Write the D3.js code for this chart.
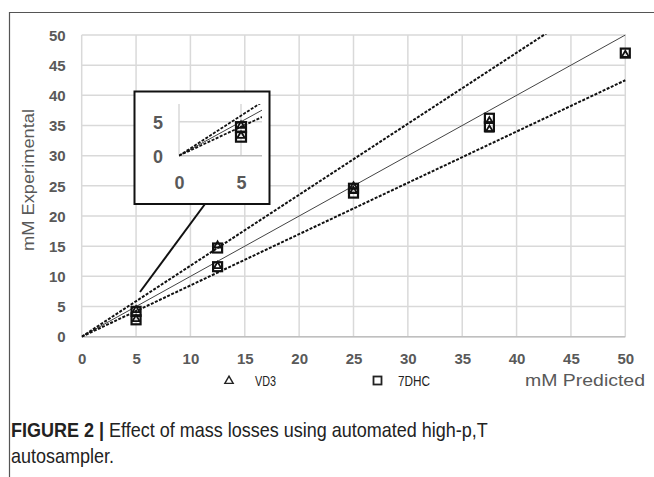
<!DOCTYPE html>
<html><head><meta charset="utf-8">
<script src="https://cdn.jsdelivr.net/npm/d3@7"></script>
<style>body{margin:0;background:#fff}svg{display:block}</style>
</head><body>
<svg id="c" width="654" height="477"></svg>
<script>
const xTicks = [0,5,10,15,20,25,30,35,40,45,50];
const yTicks = [0,5,10,15,20,25,30,35,40,45,50];
const vd3X = [5,5,12.5,12.5,25,25,37.5,37.5,50];
const vd3Y = [4.5,3.0,15.2,11.8,25.0,24.2,35.8,34.4,46.8];
const dhcX = [5,5,12.5,12.5,25,25,37.5,37.5,50];
const dhcY = [4.2,2.8,14.7,11.6,24.6,23.8,36.2,34.8,47.0];
const lineSlopes = [1, 1/0.85, 0.85];
const insetTicks = [0,5];

const svg = d3.select('#c');
svg.append('line').attr('x1',9).attr('x2',654).attr('y1',12.5).attr('y2',12.5).attr('stroke','#555').attr('stroke-width',1.2);
svg.append('line').attr('x1',9.5).attr('x2',9.5).attr('y1',12).attr('y2',477).attr('stroke','#555').attr('stroke-width',1.2);

const x = d3.scaleLinear().domain([0,50]).range([81.7,625.3]);
const y = d3.scaleLinear().domain([0,50]).range([336.7,35]);
const fmt = d3.format('d');

const g = svg.append('g');
g.selectAll('.vg').data(xTicks).join('line').attr('x1',d=>x(d)).attr('x2',d=>x(d)).attr('y1',y(50)).attr('y2',y(0)).attr('stroke','#d9d9d9').attr('stroke-width',1.5);
g.selectAll('.hg').data(yTicks).join('line').attr('x1',x(0)).attr('x2',x(50)).attr('y1',d=>y(d)).attr('y2',d=>y(d)).attr('stroke','#d9d9d9').attr('stroke-width',1.5);
g.append('line').attr('x1',x(0)).attr('x2',x(50)).attr('y1',y(0)).attr('y2',y(0)).attr('stroke','#bfbfbf').attr('stroke-width',1.5);

const tickFont = 'Liberation Sans, Arial, sans-serif';
const xAxis = d3.axisBottom(x).tickValues(xTicks).tickFormat(fmt).tickSize(0).tickPadding(0);
const ax = svg.append('g').attr('transform',`translate(0,${y(0)+22})`).call(xAxis);
ax.select('.domain').remove();
ax.selectAll('text').attr('font-family',tickFont).attr('font-weight','bold').attr('font-size',15).attr('fill','#595959').attr('dy','0.35em');
const yAxis = d3.axisLeft(y).tickValues(yTicks).tickFormat(fmt).tickSize(0).tickPadding(0);
const ay = svg.append('g').attr('transform',`translate(${x(0)-16},0)`).call(yAxis);
ay.select('.domain').remove();
ay.selectAll('text').attr('font-family',tickFont).attr('font-weight','bold').attr('font-size',15).attr('fill','#595959').attr('dy','0.35em');

svg.append('clipPath').attr('id','pc').append('rect').attr('x',x(0)).attr('y',y(50)-1).attr('width',x(50)-x(0)+1).attr('height',y(0)-y(50)+2);
const lg = svg.append('g').attr('clip-path','url(#pc)');
lineSlopes.forEach((s,i)=>{
  lg.append('line').attr('x1',x(0)).attr('y1',y(0)).attr('x2',x(50)).attr('y2',y(50*s))
    .attr('stroke', i===0?'#444':'#111').attr('stroke-width', i===0?1:2)
    .attr('stroke-dasharray', i===0?null:'3,1.5');
});

function drawMarkers(parent, sx, sy, size, filterFn){
  const tri = d3.symbol().type(d3.symbolTriangle).size(size*2.4);
  parent.selectAll(null).data(dhcX.map((d,i)=>[d,dhcY[i]]).filter(filterFn)).join('rect')
    .attr('x',d=>sx(d[0])-size/2).attr('y',d=>sy(d[1])-size/2).attr('width',size).attr('height',size)
    .attr('fill','none').attr('stroke','#111').attr('stroke-width',2.2);
  parent.selectAll(null).data(vd3X.map((d,i)=>[d,vd3Y[i]]).filter(filterFn)).join('path')
    .attr('d',tri).attr('transform',d=>`translate(${sx(d[0])},${sy(d[1])+0.5})`)
    .attr('fill','none').attr('stroke','#111').attr('stroke-width',1.8);
}
drawMarkers(svg.append('g'), x, y, 9, ()=>true);

svg.append('line').attr('x1',205).attr('y1',204).attr('x2',140).attr('y2',292).attr('stroke','#111').attr('stroke-width',2);

const inset = svg.append('g');
inset.append('rect').attr('x',134.5).attr('y',91.5).attr('width',135).attr('height',112.5).attr('fill','#fff').attr('stroke','#111').attr('stroke-width',2);
const ix = d3.scaleLinear().domain([0,5]).range([179,241]);
const iy = d3.scaleLinear().domain([0,5]).range([155.7,121.7]);
inset.append('line').attr('x1',ix(0)).attr('x2',ix(0)).attr('y1',104).attr('y2',iy(0)).attr('stroke','#d9d9d9').attr('stroke-width',1.5);
inset.append('line').attr('x1',ix(5)).attr('x2',ix(5)).attr('y1',104).attr('y2',iy(0)).attr('stroke','#d9d9d9').attr('stroke-width',1.5);
inset.append('line').attr('x1',ix(0)).attr('x2',262).attr('y1',iy(5)).attr('y2',iy(5)).attr('stroke','#d9d9d9').attr('stroke-width',1.5);
inset.append('line').attr('x1',ix(0)).attr('x2',262).attr('y1',iy(0)).attr('y2',iy(0)).attr('stroke','#bfbfbf').attr('stroke-width',1.5);
inset.append('clipPath').attr('id','ic').append('rect').attr('x',ix(0)).attr('y',104).attr('width',262-ix(0)).attr('height',iy(0)-104+1);
const ilg = inset.append('g').attr('clip-path','url(#ic)');
lineSlopes.forEach((s,i)=>{
  ilg.append('line').attr('x1',ix(0)).attr('y1',iy(0)).attr('x2',ix(6.7)).attr('y2',iy(6.7*s))
    .attr('stroke', i===0?'#444':'#111').attr('stroke-width', i===0?1:1.8)
    .attr('stroke-dasharray', i===0?null:'3,1.5');
});
drawMarkers(inset.append('g'), ix, iy, 10, d=>d[0]<=5);
const iax = inset.append('g').attr('transform',`translate(0,${iy(0)+27})`).call(d3.axisBottom(ix).tickValues(insetTicks).tickFormat(fmt).tickSize(0).tickPadding(0));
iax.select('.domain').remove();
iax.selectAll('text').attr('font-family',tickFont).attr('font-weight','bold').attr('font-size',18).attr('fill','#595959').attr('dy','0.35em');
const iay = inset.append('g').attr('transform',`translate(${ix(0)-16},0)`).call(d3.axisLeft(iy).tickValues(insetTicks).tickFormat(fmt).tickSize(0).tickPadding(0));
iay.select('.domain').remove();
iay.selectAll('text').attr('font-family',tickFont).attr('font-weight','bold').attr('font-size',18).attr('fill','#595959').attr('dy','0.35em');

svg.append('text').attr('transform','translate(34,180) rotate(-90)').attr('text-anchor','middle')
  .attr('font-family',tickFont).attr('font-size',17).attr('fill','#595959')
  .attr('textLength',142).attr('lengthAdjust','spacingAndGlyphs').text('mM Experimental');
svg.append('text').attr('x',525).attr('y',386)
  .attr('font-family',tickFont).attr('font-size',17).attr('fill','#595959')
  .attr('textLength',120).attr('lengthAdjust','spacingAndGlyphs').text('mM Predicted');

const legend = svg.append('g');
legend.append('path').attr('d',d3.symbol().type(d3.symbolTriangle).size(30)).attr('transform','translate(229,381)').attr('fill','none').attr('stroke','#222').attr('stroke-width',1.4);
legend.append('text').attr('x',255).attr('y',386).attr('font-family',tickFont).attr('font-size',14).attr('fill','#222')
  .attr('textLength',21).attr('lengthAdjust','spacingAndGlyphs').text('VD3');
legend.append('rect').attr('x',373.5).attr('y',376.5).attr('width',8).attr('height',8).attr('fill','none').attr('stroke','#222').attr('stroke-width',1.8);
legend.append('text').attr('x',398).attr('y',386).attr('font-family',tickFont).attr('font-size',14).attr('fill','#222')
  .attr('textLength',32).attr('lengthAdjust','spacingAndGlyphs').text('7DHC');

const capG = svg.append('g').attr('transform','translate(11,0) scale(0.9,1)');
const cap = capG.append('text').attr('x',0).attr('y',437).attr('font-family',tickFont).attr('font-size',20).attr('fill','#222');
cap.append('tspan').attr('font-weight','bold').text('FIGURE 2 | ');
cap.append('tspan').text('Effect of mass losses using automated high-p,T');
capG.append('text').attr('x',0).attr('y',463).attr('font-family',tickFont).attr('font-size',20).attr('fill','#222').text('autosampler.');
</script>
</body></html>
